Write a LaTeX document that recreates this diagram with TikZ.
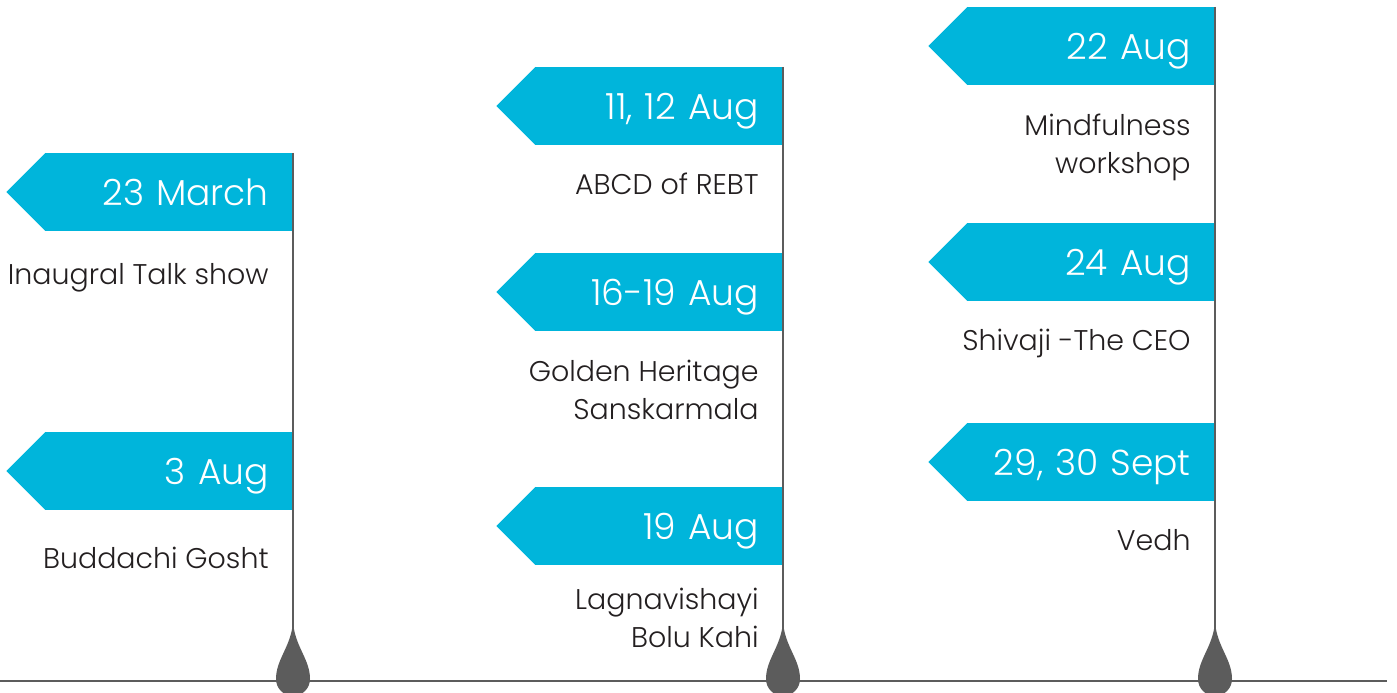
\documentclass[tikz,border=0pt]{standalone}
\usepackage{fontspec}
\setmainfont{Poppins}[UprightFont={* Light}]
\usepackage{tikz}
\usetikzlibrary{positioning}
\definecolor{flagblue}{RGB}{0,181,219}
\definecolor{polegray}{RGB}{92,92,92}
\definecolor{labeltext}{RGB}{35,31,32}

\begin{document}
\begin{tikzpicture}[x=0.02cm, y=0.02cm,
  flag/.style={rectangle, fill=flagblue, text=white, anchor=north east, minimum width=4.96cm, minimum height=1.56cm, text width=4cm, text depth=0pt, align=right, inner sep=0pt, font=\fontsize{20.5}{23}\selectfont},
  event/.style={align=right, inner sep=0pt, text=labeltext, font=\fontsize{16.2}{21.5}\selectfont},
  pole/.style={draw=polegray, line width=1.4pt},
  notch/.style={fill=flagblue}]

\useasboundingbox (0,0) rectangle (1397,693);

% Baseline and drops
\coordinate (lineL) at (0,12);
\coordinate (lineR) at (1387,12);
\coordinate (drop1) at (293,14);
\coordinate (drop2) at (783,14);
\coordinate (drop3) at (1215,14);

% Flags, first pole
\node[flag] (march23) at (293,540) {23 March};
\node[flag] (aug3) at (293,261) {3 Aug};

% Flags, second pole
\node[flag] (aug1112) at (783,626) {11, 12 Aug};
\node[flag] (aug1619) at (783,440) {16-19 Aug};
\node[flag] (aug19) at (783,206) {19 Aug};

% Flags, third pole
\node[flag] (aug22) at (1215,686) {22 Aug};
\node[flag] (aug24) at (1215,470) {24 Aug};
\node[flag] (sept2930) at (1215,270) {29, 30 Sept};

% Flag points
\fill[notch] (march23.north west) ++(1,0) -- ++(-39,-39) -- ++(39,-39) -- cycle;
\fill[notch] (aug3.north west) ++(1,0) -- ++(-39,-39) -- ++(39,-39) -- cycle;
\fill[notch] (aug1112.north west) ++(1,0) -- ++(-39,-39) -- ++(39,-39) -- cycle;
\fill[notch] (aug1619.north west) ++(1,0) -- ++(-39,-39) -- ++(39,-39) -- cycle;
\fill[notch] (aug19.north west) ++(1,0) -- ++(-39,-39) -- ++(39,-39) -- cycle;
\fill[notch] (aug22.north west) ++(1,0) -- ++(-39,-39) -- ++(39,-39) -- cycle;
\fill[notch] (aug24.north west) ++(1,0) -- ++(-39,-39) -- ++(39,-39) -- cycle;
\fill[notch] (sept2930.north west) ++(1,0) -- ++(-39,-39) -- ++(39,-39) -- cycle;

% Events
\node[event, below=0.62cm of march23.south east, anchor=north east, xshift=-0.48cm] (talkshow) {Inaugral Talk show};
\node[event, below=0.72cm of aug3.south east, anchor=north east, xshift=-0.48cm] (gosht) {Buddachi Gosht};
\node[event, below=0.54cm of aug1112.south east, anchor=north east, xshift=-0.48cm] (rebt) {ABCD of REBT};
\node[event, below=0.56cm of aug1619.south east, anchor=north east, xshift=-0.48cm] (heritage) {Golden Heritage\\Sanskarmala};
\node[event, below=0.44cm of aug19.south east, anchor=north east, xshift=-0.48cm] (lagna) {Lagnavishayi\\Bolu Kahi};
\node[event, below=0.56cm of aug22.south east, anchor=north east, xshift=-0.48cm] (mindful) {Mindfulness\\workshop};
\node[event, below=0.54cm of aug24.south east, anchor=north east, xshift=-0.48cm] (shivaji) {Shivaji -The CEO};
\node[event, below=0.54cm of sept2930.south east, anchor=north east, xshift=-0.48cm] (vedh) {Vedh};

% Poles
\draw[pole] (lineL) -- (lineR);
\draw[pole] (march23.north east) -- (drop1);
\draw[pole] (aug1112.north east) -- (drop2);
\draw[pole] (aug22.north east) -- (drop3);

% Drops
\fill[polegray] (drop1) ++(0,57) .. controls +(-2,-25) and +(0,20) .. ++(-17,-57) arc[start angle=180, end angle=360, radius=17] .. controls +(0,20) and +(2,-25) .. ++(-17,57) -- cycle;
\fill[polegray] (drop2) ++(0,57) .. controls +(-2,-25) and +(0,20) .. ++(-17,-57) arc[start angle=180, end angle=360, radius=17] .. controls +(0,20) and +(2,-25) .. ++(-17,57) -- cycle;
\fill[polegray] (drop3) ++(0,57) .. controls +(-2,-25) and +(0,20) .. ++(-17,-57) arc[start angle=180, end angle=360, radius=17] .. controls +(0,20) and +(2,-25) .. ++(-17,57) -- cycle;

\end{tikzpicture}
\end{document}
